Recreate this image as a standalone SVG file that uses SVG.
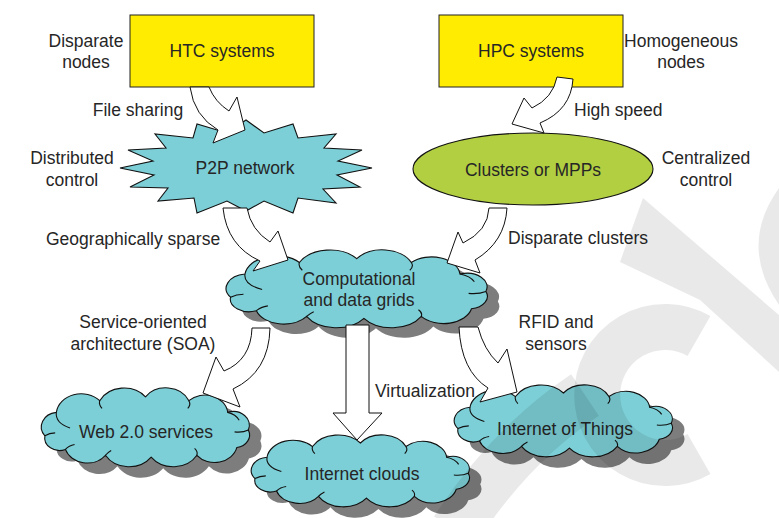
<svg xmlns="http://www.w3.org/2000/svg" xmlns:xlink="http://www.w3.org/1999/xlink" width="779" height="518" viewBox="0 0 779 518">
<style>
text{font-family:"Liberation Sans",Arial,Helvetica,sans-serif;font-size:17.5px;fill:#262626}
.c{text-anchor:middle}
.box{fill:#ffec00;stroke:#222;stroke-width:1}
.cloud{fill:#7ccfd6;stroke:#111;stroke-width:1.1}
.shadow{fill:#7d7d7d;stroke:none}
.inner{fill:none;stroke:#111;stroke-width:1.1}
.arrow{fill:#fff;stroke:#111;stroke-width:1;stroke-linejoin:miter}
.wm{fill:#000;opacity:0.085}
.wms{fill:none;stroke:#000;opacity:0.085}
</style>
<defs>
<path id="cloudShape" vector-effect="non-scaling-stroke" d="M4,49 A15,15 0 0 1 14,25 A22,22 0 0 1 52,13 A24,24 0 0 1 92,9 A22,22 0 0 1 130,13 A20,20 0 0 1 164,25 A14,14 0 0 1 182,43 A13,13 0 0 1 172,61 A20,20 0 0 1 137,69 A24,24 0 0 1 97,71 A24,24 0 0 1 57,69 A20,20 0 0 1 22,63 A13,13 0 0 1 4,49 Z"/>
<path id="cloudInner" vector-effect="non-scaling-stroke" d="M14,25 Q13,36 26,41 M52,13 Q51,17 54,21 M130,13 Q132,17 129,21 M164,25 Q171,27 174,33 M182,43 Q177,46 170,45 M137,69 Q138,65 135,62 M57,69 Q59,66 62,64 M22,63 Q25,59 30,58 M4,49 Q8,46 13,46"/>
</defs>
<rect width="779" height="518" fill="#fff"/>

<g id="htc">
<rect class="box" x="130" y="15" width="184" height="72"/>
<text class="c" x="222" y="57">HTC systems</text>
</g>
<g id="hpc">
<rect class="box" x="439" y="15" width="184" height="72"/>
<text class="c" x="531" y="57">HPC systems</text>
</g>
<g id="p2p">
<polygon points="120,168 153,161 128,150 166,148 155,134 193,138 197,124 227,133 246,120 264,133 293,124 298,138 336,134 324,148 362,150 338,161 372,168 337,175 360,187 323,189 336,203 298,198 293,213 264,201 246,211 227,201 197,213 194,198 158,201 168,188 130,187 154,175" fill="#7ccfd6" stroke="#111" stroke-width="1.1" stroke-linejoin="miter"/>
<text class="c" x="245" y="174">P2P network</text>
</g>
<g id="clusters">
<ellipse cx="533" cy="169" rx="120" ry="36" fill="#b2cf42" stroke="#111" stroke-width="1.1"/>
<text class="c" x="533" y="176">Clusters or MPPs</text>
</g>
<g id="grids">
<use xlink:href="#cloudShape" class="shadow" transform="translate(236.85,260) scale(1.434,0.963)"/>
<use xlink:href="#cloudShape" class="cloud" transform="translate(224.85,250) scale(1.434,0.963)"/>
<use xlink:href="#cloudInner" class="inner" transform="translate(224.85,250) scale(1.434,0.963)"/>
<text class="c" x="359" y="285">Computational</text>
<text class="c" x="359" y="306">and data grids</text>
</g>
<g id="web">
<use xlink:href="#cloudShape" class="shadow" transform="translate(52.3,399) scale(1.143,0.975)"/>
<use xlink:href="#cloudShape" class="cloud" transform="translate(40.3,388) scale(1.143,0.975)"/>
<use xlink:href="#cloudInner" class="inner" transform="translate(40.3,388) scale(1.143,0.975)"/>
<text class="c" x="146" y="438">Web 2.0 services</text>
</g>
<g id="internetclouds">
<use xlink:href="#cloudShape" class="shadow" transform="translate(262.2,446) scale(1.198,0.889)"/>
<use xlink:href="#cloudShape" class="cloud" transform="translate(250.2,435) scale(1.198,0.889)"/>
<use xlink:href="#cloudInner" class="inner" transform="translate(250.2,435) scale(1.198,0.889)"/>
<text class="c" x="362" y="480">Internet clouds</text>
</g>
<g id="iot">
<use xlink:href="#cloudShape" class="shadow" transform="translate(465.2,396) scale(1.198,0.889)"/>
<use xlink:href="#cloudShape" class="cloud" transform="translate(453.2,385) scale(1.198,0.889)"/>
<use xlink:href="#cloudInner" class="inner" transform="translate(453.2,385) scale(1.198,0.889)"/>
<text class="c" x="565" y="435">Internet of Things</text>
</g>

<g id="connectors">
<path class="arrow" d="M190,87 Q194,116 218,130 L213,143 L245,130 L237,97 L229,111 Q215,102 209,87 Z"/>
<path class="arrow" d="M557,77 L573,79 Q571,110 540,123 L544,133 L512,124 L524,98 L532,108 Q553,98 557,77 Z"/>
<path class="arrow" d="M223,208 Q227,246 260,261 L253,271 L288,260 L278,231 L270,242 Q251,230 247,208 Z"/>
<path class="arrow" d="M489,208 Q488,231 463,243 L458,232 L447,263 L480,273 L475,260 Q505,242 507,208 Z"/>
<path class="arrow" d="M252,328 Q251,360 224,371 L216,357 L203,393 L240,407 L233,389 Q269,372 270,328 Z"/>
<path class="arrow" d="M346,325 L346,413 L333,413 L357,440 L382,413 L369,413 L369,325 Z"/>
<path class="arrow" d="M459,327 Q461,371 488,388 L480,402 L517,392 L507,349 L498,363 Q484,350 478,327 Z"/>
</g>

<g id="labels">
<text class="c" x="86" y="47">Disparate</text>
<text class="c" x="86" y="68">nodes</text>
<text class="c" x="681" y="47">Homogeneous</text>
<text class="c" x="681" y="68">nodes</text>
<text class="c" x="138" y="116">File sharing</text>
<text x="574" y="116">High speed</text>
<text class="c" x="72" y="164">Distributed</text>
<text class="c" x="72" y="186">control</text>
<text class="c" x="706" y="164">Centralized</text>
<text class="c" x="706" y="186">control</text>
<text x="46" y="245">Geographically sparse</text>
<text x="508" y="244">Disparate clusters</text>
<text class="c" x="143" y="328">Service-oriented</text>
<text class="c" x="143" y="350">architecture (SOA)</text>
<text class="c" x="556" y="328">RFID and</text>
<text class="c" x="556" y="350">sensors</text>
<text x="375" y="397">Virtualization</text>
</g>

<g id="watermark">
<polygon class="wm" points="643,198 779,315 779,372 700,300 620,262"/>
<path class="wms" stroke-width="46" d="M699,336 A68,68 0 1 0 699,454"/>
<path class="wm" d="M779,188 Q738,245 779,305 Z"/>
<path class="wms" stroke-width="50" d="M455,530 Q510,445 585,395"/>
</g>
</svg>
